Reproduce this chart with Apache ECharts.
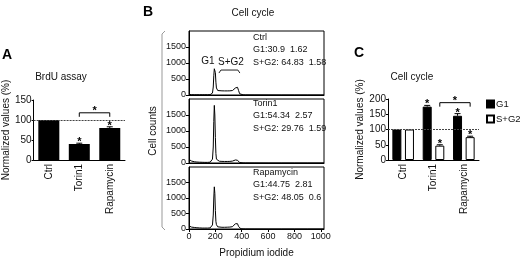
<!DOCTYPE html>
<html>
<head>
<meta charset="utf-8">
<script src="https://cdn.jsdelivr.net/npm/echarts@6/dist/echarts.min.js"></script>
<style>
  html, body { margin: 0; padding: 0; background: #fff; }
  #chart { width: 520px; height: 259px; }
</style>
</head>
<body>
<div id="chart"></div>
<script>
const FONT = 'Liberation Sans, Arial, sans-serif'

// A - BrdU assay
const brduCats = ['Ctrl', 'Torin1', 'Rapamycin']
const brduVals = [100, 40, 80]
const brduErr = [0, 2, 3]
const brduSig = [false, true, true]
const brduPair = [1, 2, 118]

// B - cell cycle histograms
const histX = [0, 10, 20, 40, 60, 80, 100, 120, 140, 160, 170, 178, 184, 188, 192, 196, 200, 204, 208, 212, 218, 230, 250, 270, 290, 310, 330, 342, 352, 360, 368, 376, 384, 394, 410, 430, 500, 600, 700, 800, 900, 1000, 1024]
const ctrlCounts = [20, 15, 10, 8, 8, 8, 8, 8, 8, 10, 20, 60, 250, 600, 820, 880, 700, 400, 220, 160, 140, 135, 130, 128, 128, 130, 140, 170, 220, 260, 240, 140, 40, 12, 5, 3, 2, 1, 0, 0, 0, 0, 0]
const torinCounts = [110, 90, 60, 40, 30, 25, 22, 20, 20, 25, 40, 120, 500, 1300, 1800, 1500, 800, 300, 120, 80, 60, 55, 50, 48, 48, 50, 60, 75, 95, 100, 85, 45, 15, 5, 3, 2, 1, 0, 0, 0, 0, 0, 0]
const rapaCounts = [100, 80, 60, 50, 40, 35, 30, 30, 30, 35, 50, 130, 450, 1000, 1360, 1150, 600, 250, 140, 100, 70, 60, 55, 55, 58, 62, 75, 110, 170, 205, 170, 80, 25, 8, 4, 2, 1, 0, 0, 0, 0, 0, 0]
const ctrlText = 'Ctrl\nG1:30.9  1.62\nS+G2: 64.83  1.58'
const torinText = 'Torin1\nG1:54.34  2.57\nS+G2: 29.76  1.59'
const rapaText = 'Rapamycin\nG1:44.75  2.81\nS+G2: 48.05  0.6'

// C - cell cycle bars
const cycCats = ['Ctrl', 'Torin1', 'Rapamycin']
const g1Vals = [100, 175, 145]
const g1Err = [0, 4, 7]
const g1Sig = [false, true, true]
const sg2Vals = [100, 47, 75]
const sg2Err = [0, 3, 3]
const sg2Sig = [false, true, true]
const cycPair = [1, 2, 188]

const C_BAR = 9
const C_GAP = 0.4
const C_OFF = (C_BAR + C_BAR * C_GAP) / 2

let chart = echarts.init(document.getElementById('chart'), null, { renderer: 'canvas' })

function errRender (vals, errs, sig, offset) {
  return function (params, api) {
    let i = api.value(0)
    let top = api.coord([i, vals[i] + errs[i]])
    let base = api.coord([i, vals[i]])
    let x = top[0] + offset
    let children = []
    if (errs[i] > 0) {
      children.push({ type: 'line', shape: { x1: x, y1: base[1], x2: x, y2: top[1] }, style: { stroke: '#000', lineWidth: 1 } })
      children.push({ type: 'line', shape: { x1: x - 3, y1: top[1], x2: x + 3, y2: top[1] }, style: { stroke: '#000', lineWidth: 1 } })
    }
    if (sig[i]) {
      children.push({ type: 'text', style: { text: '*', x: x, y: top[1] - 1, align: 'center', verticalAlign: 'middle', font: 'bold 11px ' + FONT, fill: '#000' } })
    }
    return { type: 'group', children }
  }
}

function pairRender (pair, offset) {
  return function (params, api) {
    let a = api.coord([pair[0], pair[2]])
    let b = api.coord([pair[1], pair[2]])
    let x1 = a[0] + offset
    let x2 = b[0] + offset
    let y = a[1]
    return {
      type: 'group',
      children: [
        { type: 'polyline', shape: { points: [[x1, y + 4], [x1, y], [x2, y], [x2, y + 4]] }, style: { stroke: '#000', lineWidth: 1, fill: null } },
        { type: 'text', style: { text: '*', x: (x1 + x2) / 2, y: y - 2, align: 'center', verticalAlign: 'middle', font: 'bold 11px ' + FONT, fill: '#000' } }
      ]
    }
  }
}

function phaseRender (params, api) {
  let g1 = api.coord([144, 1060])
  let sg = api.coord([318, 1010])
  let l = api.coord([227, 780])
  let r = api.coord([386, 780])
  return {
    type: 'group',
    children: [
      { type: 'text', style: { text: 'G1', x: g1[0], y: g1[1], align: 'center', verticalAlign: 'middle', font: '10px ' + FONT, fill: '#111' } },
      { type: 'text', style: { text: 'S+G2', x: sg[0], y: sg[1], align: 'center', verticalAlign: 'middle', font: '10px ' + FONT, fill: '#111' } },
      { type: 'polyline', shape: { points: [[l[0], l[1] + 3], [l[0] + 2, l[1]], [r[0] - 2, r[1]], [r[0], r[1] + 3]] }, style: { stroke: '#222', lineWidth: 1, fill: null } }
    ]
  }
}

const axisText = { color: '#111', fontSize: 10, fontFamily: FONT }
const blackLine = { lineStyle: { color: '#000', width: 1 } }
const plain = v => String(v)

function barYAxis (grid, max, interval, gap) {
  return {
    gridIndex: grid,
    type: 'value',
    min: 0,
    max: max,
    interval: interval,
    name: 'Normalized values (%)',
    nameLocation: 'middle',
    nameGap: gap,
    nameTextStyle: { color: '#111', fontSize: 10, fontFamily: FONT },
    axisLine: { show: true, lineStyle: { color: '#000', width: 1 } },
    axisTick: { show: true, length: 2, lineStyle: { color: '#000' } },
    axisLabel: Object.assign({ margin: 2, formatter: plain }, axisText),
    splitLine: { show: false }
  }
}

function catXAxis (grid, cats) {
  return {
    gridIndex: grid,
    type: 'category',
    data: cats,
    axisLine: blackLine,
    axisTick: { show: false },
    axisLabel: Object.assign({ rotate: 90, margin: 4, interval: 0 }, axisText)
  }
}

function histYAxis (grid, name) {
  return {
    gridIndex: grid,
    type: 'value',
    min: 0,
    max: 2000,
    interval: 500,
    name: name,
    nameLocation: 'middle',
    nameGap: 31,
    nameTextStyle: { color: '#111', fontSize: 10, fontFamily: FONT },
    axisLine: blackLine,
    axisTick: { show: true, length: 3, lineStyle: { color: '#000' } },
    axisLabel: Object.assign({ margin: 3, showMaxLabel: false, formatter: plain }, axisText, { fontSize: 9 }),
    splitLine: { show: false }
  }
}

function histXAxis (grid, showLabels) {
  return {
    gridIndex: grid,
    type: 'value',
    min: 0,
    max: 1024,
    interval: 200,
    name: showLabels ? 'Propidium iodide' : '',
    nameLocation: 'middle',
    nameGap: 19,
    nameTextStyle: { color: '#111', fontSize: 10, fontFamily: FONT },
    axisLine: blackLine,
    axisTick: { show: showLabels, length: 3, lineStyle: { color: '#000' } },
    axisLabel: Object.assign({ show: showLabels, margin: 3, showMaxLabel: false, formatter: plain }, axisText, { fontSize: 9 }),
    splitLine: { show: false }
  }
}

function histSeries (idx, counts) {
  return {
    type: 'line',
    xAxisIndex: idx,
    yAxisIndex: idx,
    data: histX.map((x, i) => [x, counts[i]]),
    showSymbol: false,
    lineStyle: { color: '#000', width: 1 },
    silent: true
  }
}

const dash100 = {
  silent: true,
  symbol: 'none',
  label: { show: false },
  lineStyle: { color: '#444', type: [2, 1], width: 1 },
  data: [{ yAxis: 100 }]
}

const titleStyle = { color: '#111', fontSize: 10, fontWeight: 'normal', fontFamily: FONT }
const letterStyle = { color: '#000', fontSize: 14, fontWeight: 'bold', fontFamily: FONT }
const noteStyle = { color: '#111', fontSize: 9, fontWeight: 'normal', fontFamily: FONT, lineHeight: 12.5 }

chart.setOption({
  animation: false,
  backgroundColor: '#fff',
  title: [
    { text: 'A', left: 2, top: 48, padding: 0, textStyle: letterStyle },
    { text: 'B', left: 143, top: 5, padding: 0, textStyle: letterStyle },
    { text: 'C', left: 354, top: 46, padding: 0, textStyle: letterStyle },
    { text: 'BrdU assay', left: 61, top: 72, padding: 0, textAlign: 'center', textStyle: titleStyle },
    { text: 'Cell cycle', left: 253, top: 8, padding: 0, textAlign: 'center', textStyle: titleStyle },
    { text: 'Cell cycle', left: 412, top: 72, padding: 0, textAlign: 'center', textStyle: titleStyle },
    { text: ctrlText, left: 253, top: 31, padding: 0, textStyle: noteStyle },
    { text: torinText, left: 253, top: 97, padding: 0, textStyle: noteStyle },
    { text: rapaText, left: 253, top: 166, padding: 0, textStyle: noteStyle }
  ],
  legend: {
    orient: 'vertical',
    left: 486,
    top: 99,
    itemWidth: 7,
    itemHeight: 7,
    itemGap: 5,
    padding: 0,
    icon: 'rect',
    textStyle: { color: '#111', fontSize: 9.5, fontFamily: FONT, padding: [0, 0, 0, -3] },
    data: ['G1', 'S+G2']
  },
  graphic: [
    { type: 'polyline', shape: { points: [[165, 31], [162, 34], [162, 227], [165, 230]] }, style: { stroke: '#999', lineWidth: 1, fill: null } }
  ],
  grid: [
    { left: 33, top: 100, width: 92, height: 60 },
    { left: 189, top: 31, width: 135, height: 64, show: true, borderColor: '#000', borderWidth: 1, backgroundColor: 'transparent' },
    { left: 189, top: 99, width: 135, height: 64, show: true, borderColor: '#000', borderWidth: 1, backgroundColor: 'transparent' },
    { left: 189, top: 167, width: 135, height: 64, show: true, borderColor: '#000', borderWidth: 1, backgroundColor: 'transparent' },
    { left: 388, top: 99, width: 91, height: 61 }
  ],
  xAxis: [
    catXAxis(0, brduCats),
    histXAxis(1, false),
    histXAxis(2, false),
    histXAxis(3, true),
    catXAxis(4, cycCats)
  ],
  yAxis: [
    barYAxis(0, 150, 50, 17),
    histYAxis(1, ''),
    histYAxis(2, 'Cell counts'),
    histYAxis(3, ''),
    barYAxis(4, 200, 50, 18)
  ],
  series: [
    {
      name: 'BrdU',
      type: 'bar',
      xAxisIndex: 0,
      yAxisIndex: 0,
      barWidth: 21,
      data: brduVals,
      itemStyle: { color: '#000' },
      markLine: dash100
    },
    {
      type: 'custom',
      xAxisIndex: 0,
      yAxisIndex: 0,
      clip: false,
      data: brduVals.map((v, i) => [i, v]),
      renderItem: errRender(brduVals, brduErr, brduSig, 0)
    },
    {
      type: 'custom',
      xAxisIndex: 0,
      yAxisIndex: 0,
      clip: false,
      data: [[brduPair[0], brduPair[2]]],
      renderItem: pairRender(brduPair, 0)
    },
    histSeries(1, ctrlCounts),
    histSeries(2, torinCounts),
    histSeries(3, rapaCounts),
    {
      type: 'custom',
      xAxisIndex: 1,
      yAxisIndex: 1,
      clip: false,
      data: [[144, 1060]],
      renderItem: phaseRender
    },
    {
      name: 'G1',
      type: 'bar',
      xAxisIndex: 4,
      yAxisIndex: 4,
      barWidth: C_BAR,
      barGap: (C_GAP * 100) + '%',
      data: g1Vals,
      itemStyle: { color: '#000', borderColor: '#000', borderWidth: 1 },
      markLine: dash100
    },
    {
      name: 'S+G2',
      type: 'bar',
      xAxisIndex: 4,
      yAxisIndex: 4,
      barWidth: C_BAR,
      data: sg2Vals,
      itemStyle: { color: '#fff', borderColor: '#000', borderWidth: 1 }
    },
    {
      type: 'custom',
      xAxisIndex: 4,
      yAxisIndex: 4,
      clip: false,
      data: g1Vals.map((v, i) => [i, v]),
      renderItem: errRender(g1Vals, g1Err, g1Sig, -C_OFF)
    },
    {
      type: 'custom',
      xAxisIndex: 4,
      yAxisIndex: 4,
      clip: false,
      data: sg2Vals.map((v, i) => [i, v]),
      renderItem: errRender(sg2Vals, sg2Err, sg2Sig, C_OFF)
    },
    {
      type: 'custom',
      xAxisIndex: 4,
      yAxisIndex: 4,
      clip: false,
      data: [[cycPair[0], cycPair[2]]],
      renderItem: pairRender(cycPair, C_OFF)
    }
  ]
})
</script>
</body>
</html>
